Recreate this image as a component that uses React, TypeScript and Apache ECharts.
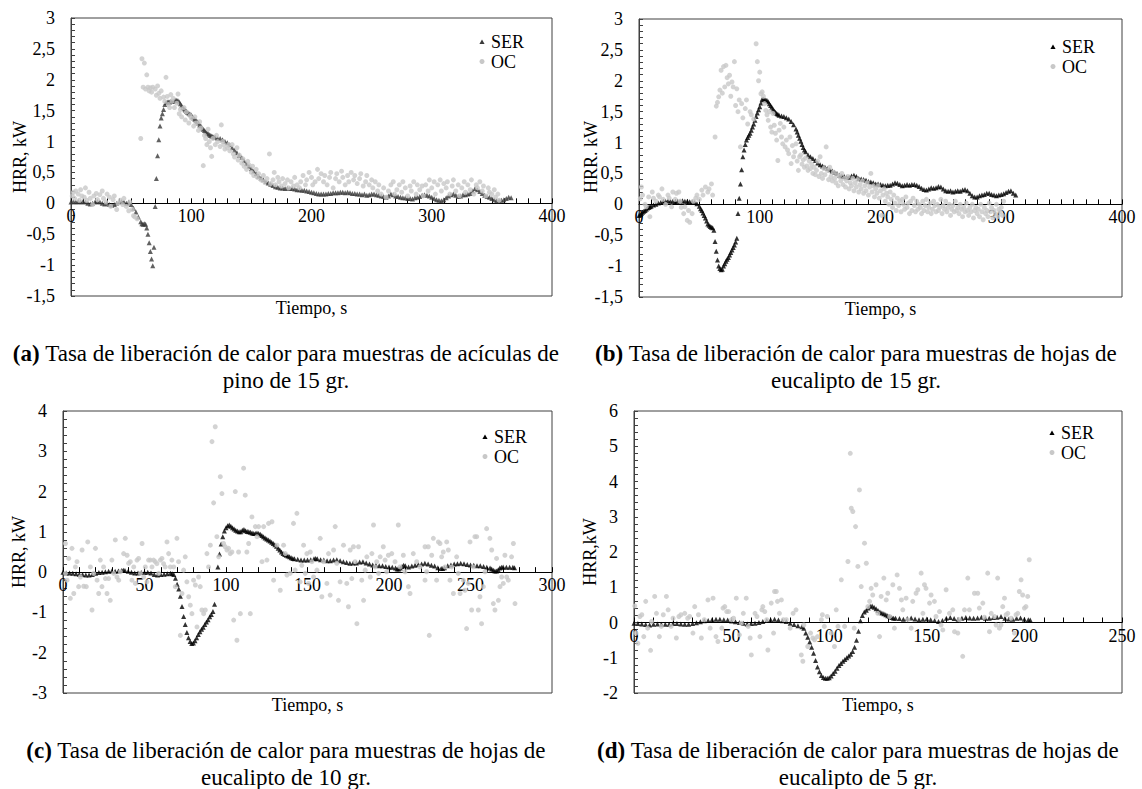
import React, { useEffect, useRef } from "react";
import * as echarts from "echarts";

const FONT = "Liberation Serif";

// ---------- Panel (a): pine needles 15 g ----------
const serA: number[][] = [
[0,0.02],[2,0.03],[4,0.02],[6,0.03],[8,0.02],[10,0.03],[12,0.02],[14,0.0],[16,-0.01],[18,0.0],[20,0.02],[22,0.03],[24,0.02],[26,0.0],[28,-0.01],[30,0.0],[32,-0.02],[34,-0.03],[36,-0.02],[38,0.0],[40,0.02],[42,0.03],[44,0.02],[46,0.0],[48,0.02],[50,-0.02],[52,-0.08],[54,-0.14],[56,-0.22],[58,-0.3],[59,-0.33],[60,-0.34],[61,-0.33],[62,-0.34],[63,-0.4],[64,-0.5],[65,-0.64],[66,-0.78],[67,-0.9],[68,-1.01],[69,-0.71],[70,-0.05],[71,0.4],[72,0.77],[73,1.03],[74,1.25],[75,1.38],[76,1.45],[77,1.52],[78,1.6],[79,1.63],[80,1.64],[81,1.64],[82,1.64],[83,1.65],[84,1.65],[85,1.65],[86,1.66],[87,1.67],[88,1.67],[89,1.66],[90,1.64],[91,1.61],[92,1.58],[93,1.55],[94,1.53],[95,1.51],[96,1.49],[97,1.47],[98,1.46],[99,1.44],[100,1.43],[101,1.4],[102,1.38],[103,1.36],[104,1.34],[105,1.32],[106,1.3],[107,1.27],[108,1.25],[109,1.22],[110,1.2],[111,1.18],[112,1.16],[113,1.14],[114,1.13],[115,1.11],[116,1.1],[117,1.09],[118,1.08],[119,1.07],[120,1.07],[122,1.05],[124,1.05],[126,1.03],[128,1.0],[130,0.98],[132,0.95],[134,0.9],[136,0.86],[138,0.82],[140,0.78],[142,0.74],[144,0.69],[146,0.64],[148,0.6],[150,0.56],[152,0.52],[154,0.48],[156,0.44],[158,0.41],[160,0.38],[162,0.35],[164,0.33],[166,0.31],[168,0.29],[170,0.27],[172,0.26],[174,0.25],[176,0.25],[178,0.24],[180,0.25],[182,0.24],[184,0.24],[186,0.23],[188,0.22],[190,0.22],[192,0.21],[194,0.21],[196,0.2],[198,0.19],[200,0.18],[202,0.17],[204,0.16],[206,0.15],[208,0.15],[210,0.15],[212,0.15],[214,0.16],[216,0.16],[218,0.17],[220,0.17],[222,0.17],[224,0.18],[226,0.18],[228,0.17],[230,0.18],[232,0.17],[234,0.16],[236,0.16],[238,0.15],[240,0.15],[242,0.14],[244,0.15],[246,0.13],[248,0.14],[250,0.15],[252,0.15],[254,0.14],[256,0.13],[258,0.12],[260,0.11],[262,0.1],[264,0.12],[266,0.15],[268,0.14],[270,0.12],[272,0.11],[274,0.1],[276,0.09],[278,0.09],[280,0.08],[282,0.08],[284,0.07],[286,0.09],[288,0.1],[290,0.11],[292,0.13],[294,0.14],[296,0.13],[298,0.12],[300,0.1],[302,0.08],[304,0.06],[306,0.05],[308,0.04],[310,0.06],[312,0.09],[314,0.12],[316,0.14],[318,0.15],[320,0.13],[322,0.11],[324,0.12],[326,0.14],[328,0.14],[330,0.15],[332,0.16],[334,0.2],[336,0.24],[338,0.22],[340,0.19],[342,0.16],[344,0.13],[346,0.11],[348,0.1],[350,0.08],[352,0.06],[354,0.04],[356,0.04],[358,0.05],[360,0.06],[362,0.08],[364,0.1],[366,0.09]
];
const ocA: number[][] = [
[1,0.12],[2,0.18],[3,0.08],[4,0.2],[6,0.15],[7,0.05],[8,0.22],[9,0.12],[11,0.1],[12,0.25],[13,0.05],[15,0.18],[16,0.08],[18,-0.02],[19,0.12],[21,0.16],[22,0.06],[24,0.14],[26,0.2],[27,0.08],[29,0.02],[30,0.15],[32,0.1],[33,-0.05],[35,0.06],[36,0.12],[38,-0.1],[39,0.0],[41,0.05],[43,-0.02],[44,0.08],[46,-0.05],[48,-0.12],[49,0.02],[51,-0.1],[52,-0.2],[53,-0.22],[55,-0.25],[58,1.05],[59,2.34],[60,1.88],[61,2.27],[62,1.85],[63,2.08],[64,1.88],[65,1.82],[66,1.87],[67,1.8],[68,1.88],[70,1.85],[71,1.75],[72,1.9],[73,1.78],[74,1.7],[75,1.82],[77,1.72],[78,1.65],[79,2.04],[80,1.73],[81,1.6],[82,1.55],[83,1.76],[84,1.65],[85,1.7],[86,1.55],[88,1.62],[89,1.77],[90,1.45],[91,1.52],[92,1.4],[94,1.55],[95,1.35],[96,1.48],[98,1.3],[99,1.42],[100,1.38],[102,1.25],[103,1.4],[104,1.3],[106,1.18],[107,1.32],[108,1.22],[110,0.61],[111,1.1],[112,1.05],[113,0.95],[114,1.2],[115,1.0],[116,0.9],[117,0.76],[118,1.05],[120,0.95],[121,1.1],[122,1.0],[124,0.92],[125,1.27],[126,1.0],[127,0.95],[128,0.88],[130,0.9],[131,0.95],[132,0.85],[134,0.95],[135,0.8],[136,0.75],[138,0.9],[139,0.7],[140,0.78],[142,0.65],[143,0.72],[144,0.6],[146,0.55],[147,0.68],[148,0.62],[150,0.5],[151,0.6],[152,0.45],[154,0.55],[155,0.42],[156,0.48],[158,0.38],[160,0.45],[161,0.35],[163,0.4],[165,0.8],[166,0.32],[168,0.38],[169,0.5],[170,0.3],[172,0.42],[173,0.35],[175,0.28],[176,0.4],[178,0.32],[180,0.38],[181,0.25],[183,0.35],[185,0.28],[186,0.42],[188,0.3],[190,0.25],[191,0.35],[193,0.45],[195,0.3],[196,0.38],[198,0.5],[200,0.42],[201,0.3],[203,0.35],[205,0.55],[206,0.4],[208,0.48],[210,0.35],[211,0.45],[213,0.3],[215,0.42],[216,0.5],[218,0.25],[220,0.4],[221,0.48],[223,0.35],[225,0.52],[226,0.42],[228,0.3],[230,0.45],[231,0.35],[233,0.5],[235,0.38],[236,0.45],[238,0.32],[240,0.4],[241,0.48],[243,0.28],[245,0.35],[246,0.45],[248,0.3],[250,0.38],[251,0.25],[253,0.35],[255,0.2],[256,0.3],[258,0.15],[260,0.25],[262,0.1],[264,0.2],[266,0.3],[268,0.35],[269,0.15],[271,0.22],[273,0.3],[275,0.18],[276,0.35],[278,0.25],[280,0.12],[282,0.28],[283,0.2],[285,0.35],[287,0.15],[288,0.3],[290,0.22],[292,0.28],[293,0.12],[295,0.3],[297,0.2],[298,0.38],[300,0.25],[302,0.35],[303,0.15],[305,0.3],[307,0.38],[308,0.2],[310,0.32],[312,0.25],[313,0.35],[315,0.15],[317,0.28],[318,0.38],[320,0.2],[322,0.3],[323,0.12],[325,0.25],[327,0.35],[328,0.18],[330,0.3],[332,0.22],[333,0.38],[335,0.15],[337,0.3],[338,0.25],[340,0.35],[342,0.2],[343,0.28],[345,0.12],[347,0.25],[348,0.18],[350,0.15],[352,0.22],[353,0.1],[355,0.15],[356,0.05]
];

// ---------- Panel (b): eucalyptus 15 g ----------
const serB: number[][] = [
[0,-0.18],[1,-0.17],[2,-0.15],[3,-0.13],[4,-0.11],[5,-0.1],[6,-0.08],[7,-0.06],[8,-0.05],[9,-0.04],[10,-0.03],[12,-0.01],[14,0.0],[16,0.02],[18,0.03],[20,0.04],[22,0.05],[24,0.06],[26,0.05],[28,0.05],[30,0.04],[32,0.05],[34,0.05],[36,0.06],[38,0.05],[40,0.05],[42,0.04],[44,0.04],[46,0.03],[48,0.01],[50,-0.03],[51,-0.07],[52,-0.1],[53,-0.14],[54,-0.18],[55,-0.22],[56,-0.27],[57,-0.32],[58,-0.34],[59,-0.36],[60,-0.37],[61,-0.38],[62,-0.42],[63,-0.6],[64,-0.76],[65,-0.9],[66,-1.0],[67,-1.04],[68,-1.06],[69,-1.05],[70,-1.0],[71,-0.96],[72,-0.92],[73,-0.89],[74,-0.86],[75,-0.82],[76,-0.78],[77,-0.74],[78,-0.7],[79,-0.66],[80,-0.61],[81,-0.55],[82,-0.15],[83,0.1],[84,0.33],[85,0.56],[86,0.77],[87,0.88],[88,0.97],[89,1.04],[90,1.08],[91,1.12],[92,1.15],[93,1.2],[94,1.25],[95,1.3],[96,1.36],[97,1.42],[98,1.48],[99,1.53],[100,1.58],[101,1.64],[102,1.7],[103,1.7],[104,1.69],[105,1.69],[106,1.68],[107,1.66],[108,1.63],[109,1.6],[110,1.57],[111,1.54],[112,1.51],[113,1.49],[114,1.47],[115,1.46],[116,1.44],[118,1.43],[120,1.42],[122,1.4],[124,1.38],[126,1.34],[128,1.29],[130,1.22],[131,1.17],[132,1.12],[133,1.07],[134,1.02],[135,0.97],[136,0.92],[137,0.88],[138,0.85],[140,0.8],[142,0.77],[144,0.74],[146,0.71],[148,0.67],[150,0.64],[152,0.62],[154,0.6],[156,0.58],[158,0.56],[160,0.54],[162,0.52],[164,0.5],[166,0.47],[168,0.46],[170,0.45],[172,0.44],[174,0.44],[176,0.46],[178,0.47],[180,0.45],[182,0.42],[184,0.41],[186,0.4],[188,0.39],[190,0.37],[192,0.36],[194,0.35],[196,0.33],[198,0.33],[200,0.32],[202,0.31],[204,0.3],[206,0.31],[208,0.31],[210,0.33],[212,0.35],[214,0.34],[216,0.32],[218,0.3],[220,0.31],[222,0.32],[224,0.31],[226,0.32],[228,0.32],[230,0.31],[232,0.29],[234,0.26],[236,0.24],[238,0.23],[240,0.25],[242,0.27],[244,0.26],[246,0.27],[248,0.29],[250,0.28],[252,0.25],[254,0.22],[256,0.21],[258,0.22],[260,0.2],[262,0.21],[264,0.22],[266,0.21],[268,0.23],[270,0.24],[272,0.22],[274,0.18],[276,0.14],[278,0.12],[280,0.12],[282,0.14],[284,0.15],[286,0.16],[288,0.18],[290,0.18],[292,0.16],[294,0.15],[296,0.14],[298,0.15],[300,0.16],[302,0.17],[304,0.19],[306,0.21],[308,0.22],[310,0.18],[312,0.15]
];
const ocB: number[][] = [
[1,0.09],[2,0.28],[3,0.15],[5,0.0],[6,-0.04],[8,0.12],[9,-0.2],[11,0.2],[12,0.1],[14,0.05],[16,0.15],[17,0.12],[19,0.25],[20,0.08],[22,0.0],[24,0.15],[25,0.1],[27,-0.04],[28,0.2],[30,0.08],[31,0.18],[33,0.2],[34,0.05],[35,-0.05],[37,-0.15],[38,-0.04],[40,-0.26],[41,-0.1],[42,-0.29],[44,-0.15],[45,0.05],[47,0.1],[48,0.15],[50,0.08],[52,0.23],[53,0.15],[55,0.28],[57,0.2],[58,0.25],[60,0.33],[61,0.15],[63,1.09],[64,1.59],[65,1.65],[66,1.74],[67,1.85],[68,2.17],[69,1.8],[70,2.23],[71,1.9],[72,2.25],[73,2.05],[74,1.95],[75,2.09],[76,1.75],[77,1.98],[78,1.9],[79,2.31],[80,1.6],[81,1.87],[82,1.5],[83,1.69],[84,0.93],[85,1.63],[86,1.4],[88,1.55],[89,1.69],[90,1.3],[92,1.5],[93,1.45],[95,1.38],[97,2.6],[98,2.31],[99,2.0],[100,2.14],[101,1.79],[102,1.82],[103,1.75],[104,1.63],[105,1.52],[106,1.45],[107,1.36],[108,1.5],[109,1.25],[110,1.17],[111,1.47],[112,1.28],[113,1.15],[114,1.04],[115,0.71],[116,1.2],[117,1.31],[118,1.09],[119,0.98],[120,1.25],[121,0.93],[122,1.04],[123,0.88],[124,0.82],[125,1.09],[126,0.66],[127,0.95],[128,0.77],[129,0.85],[130,0.98],[131,0.7],[132,0.55],[133,0.77],[134,0.8],[135,0.65],[136,0.72],[137,0.6],[138,0.75],[139,0.62],[140,0.55],[141,0.7],[142,0.58],[143,0.65],[144,0.5],[145,0.6],[146,0.48],[147,0.55],[148,0.7],[149,0.45],[150,0.77],[151,0.5],[152,0.42],[153,0.58],[154,0.48],[155,0.93],[156,0.55],[157,0.4],[158,0.6],[159,0.45],[160,0.38],[161,0.52],[162,0.42],[163,0.35],[164,0.48],[165,0.3],[166,0.45],[167,0.38],[168,0.5],[169,0.32],[170,0.42],[171,0.28],[172,0.38],[173,0.45],[174,0.25],[175,0.35],[176,0.3],[177,0.42],[178,0.22],[179,0.35],[180,0.28],[181,0.4],[182,0.2],[183,0.32],[184,0.25],[185,0.38],[186,0.18],[187,0.3],[188,0.22],[189,0.35],[190,0.15],[191,0.28],[192,0.5],[193,0.2],[194,0.3],[195,0.12],[196,0.25],[197,0.18],[198,0.3],[199,0.1],[200,0.22],[201,-0.18],[202,0.15],[203,0.25],[204,0.05],[205,0.18],[206,0.12],[207,0.0],[208,0.2],[209,0.08],[210,-0.05],[211,0.15],[212,0.02],[213,-0.1],[214,0.1],[215,-0.02],[216,0.05],[217,-0.12],[218,0.08],[219,0.0],[220,-0.08],[221,0.12],[222,-0.05],[223,0.02],[224,-0.15],[225,0.05],[226,-0.1],[227,0.1],[228,-0.02],[229,-0.12],[230,0.05],[231,-0.08],[232,0.0],[233,-0.05],[234,-0.15],[235,0.05],[236,-0.1],[237,-0.02],[238,0.08],[239,-0.12],[240,-0.05],[241,0.02],[242,-0.15],[243,-0.08],[244,0.05],[245,-0.02],[246,-0.12],[247,0.0],[248,-0.1],[249,-0.05],[250,0.08],[251,-0.15],[252,-0.02],[253,-0.08],[254,0.05],[255,-0.12],[256,-0.05],[257,0.0],[258,-0.18],[259,-0.08],[260,-0.02],[261,-0.12],[262,0.05],[263,-0.1],[264,-0.05],[265,-0.15],[266,0.0],[267,-0.08],[268,-0.2],[269,-0.05],[270,-0.12],[271,0.02],[272,-0.1],[273,-0.18],[274,-0.05],[275,-0.12],[276,0.0],[277,-0.22],[278,-0.1],[279,-0.05],[280,-0.15],[281,-0.08],[282,-0.2],[283,0.0],[284,-0.12],[285,-0.25],[286,-0.05],[287,-0.15],[288,-0.1],[289,-0.2],[290,0.02],[291,-0.12],[292,-0.05],[293,-0.22],[294,-0.1],[295,-0.15],[296,0.0],[297,-0.2],[298,-0.08],[299,-0.12],[300,-0.05],[301,-0.18],[302,0.05]
];

// ---------- Panel (c): eucalyptus 10 g ----------
const serC: number[][] = [
[0,0.0],[2,-0.02],[4,-0.02],[6,-0.03],[8,-0.04],[10,-0.05],[12,-0.06],[14,-0.07],[16,-0.07],[18,-0.06],[20,-0.03],[22,-0.01],[24,0.0],[26,0.01],[28,0.02],[30,0.03],[32,0.02],[34,0.03],[36,0.04],[37,0.05],[38,0.04],[40,0.02],[42,0.0],[44,-0.02],[46,-0.02],[48,-0.01],[50,-0.01],[52,0.0],[54,-0.02],[56,-0.06],[58,-0.07],[60,-0.06],[62,-0.05],[64,-0.04],[66,-0.03],[67,-0.04],[68,-0.06],[69,-0.15],[70,-0.3],[71,-0.42],[72,-0.6],[73,-0.85],[74,-1.1],[75,-1.3],[76,-1.5],[77,-1.63],[78,-1.72],[79,-1.77],[80,-1.76],[81,-1.7],[82,-1.63],[83,-1.55],[84,-1.48],[85,-1.42],[86,-1.37],[87,-1.3],[88,-1.24],[89,-1.18],[90,-1.11],[91,-1.05],[92,-0.98],[93,-0.8],[95,0.13],[96,0.45],[97,0.7],[98,0.88],[99,1.02],[100,1.1],[101,1.15],[102,1.17],[103,1.14],[104,1.1],[105,1.07],[106,1.04],[107,1.02],[108,1.0],[109,1.0],[110,1.04],[111,1.06],[112,1.03],[113,1.01],[114,1.0],[115,0.99],[116,0.97],[117,0.96],[118,0.96],[119,0.97],[120,0.96],[121,0.94],[122,0.91],[123,0.88],[124,0.85],[125,0.82],[126,0.8],[127,0.77],[128,0.74],[129,0.71],[130,0.68],[131,0.64],[132,0.59],[133,0.55],[134,0.5],[135,0.46],[136,0.44],[137,0.42],[138,0.4],[139,0.38],[140,0.36],[141,0.34],[142,0.33],[144,0.32],[146,0.3],[148,0.3],[150,0.3],[152,0.31],[154,0.33],[155,0.34],[156,0.33],[158,0.31],[160,0.3],[162,0.28],[164,0.28],[166,0.3],[168,0.31],[170,0.28],[172,0.26],[174,0.24],[176,0.22],[178,0.23],[180,0.23],[182,0.25],[184,0.26],[186,0.23],[188,0.2],[190,0.18],[192,0.17],[194,0.16],[196,0.16],[198,0.14],[200,0.13],[202,0.12],[204,0.1],[205,0.08],[206,0.08],[207,0.1],[208,0.14],[209,0.17],[210,0.16],[212,0.13],[214,0.15],[216,0.17],[218,0.19],[220,0.2],[222,0.22],[224,0.2],[226,0.17],[228,0.15],[230,0.11],[232,0.09],[233,0.09],[234,0.11],[236,0.16],[238,0.18],[240,0.2],[242,0.21],[244,0.22],[246,0.21],[248,0.19],[250,0.18],[252,0.17],[254,0.16],[256,0.16],[258,0.14],[260,0.12],[262,0.1],[263,0.08],[264,0.05],[265,0.03],[266,0.03],[267,0.06],[268,0.1],[269,0.12],[270,0.13],[272,0.12],[274,0.12],[276,0.12],[277,0.11]
];
const ocC: number[][] = [
[1.5,-0.03],[1.5,0.71],[2.5,-0.2],[3.5,0.34],[4.5,-0.65],[5.5,0.59],[6.6,-0.53],[7.6,0.13],[8.6,0.26],[9.6,-0.36],[10.7,-0.12],[11.7,0.55],[12.7,-0.35],[14.3,-0.36],[15.2,0.75],[16.8,0.13],[17.8,-0.94],[18.8,-0.03],[19.9,0.59],[20.9,-0.2],[21.9,-0.53],[22.9,0.3],[23.9,-0.36],[24.9,0.13],[26,-0.16],[27,-0.53],[28,-0.16],[29,-0.7],[30,0.3],[31.1,-0.03],[32.1,0.8],[33.1,-0.12],[34.2,-0.2],[35.2,0.01],[37.2,0.46],[38.2,0.84],[39.3,0.42],[40.3,0.22],[41.3,0.26],[42.3,-0.2],[43.4,0.13],[44.4,-0.28],[45.4,0.3],[46.4,0.34],[47.5,-0.03],[48.5,0.71],[49.5,-0.12],[50.5,0.13],[51.5,-0.24],[52.5,0.3],[53.6,0.3],[54.6,0.13],[55.6,0.3],[56.6,0.26],[57.6,0.21],[58.7,-0.03],[59.7,0.3],[60.7,0.34],[61.7,0.21],[62.7,0.13],[63.8,0.75],[64.8,0.46],[65.8,0.13],[66.8,0.3],[67.9,0.13],[68.9,-0.36],[69.9,0.84],[70.9,0.26],[72,-1.57],[73,-0.53],[74,0.05],[75,0.38],[76,-0.24],[77.1,-0.61],[78.1,-0.82],[79.1,-1.03],[80.1,-0.2],[81.2,-0.32],[82.2,-1.36],[83.2,-0.12],[84.2,-0.36],[85.2,-0.94],[86.3,-1.03],[87.3,-0.94],[88.3,0.46],[89.3,0.13],[90.4,0.67],[91.4,3.24],[92.4,1.72],[93.4,3.61],[94.4,0.88],[95.5,0.38],[96.5,2.37],[97.5,1.95],[98.5,0.71],[99.5,0.63],[100.6,0.55],[101.6,0.59],[102.6,0.46],[103.6,0.5],[104.7,-1.19],[105.7,2.0],[106.7,-1.69],[107.7,0.5],[108.8,-1.03],[110.8,2.58],[111.8,1.91],[112.8,0.5],[113.9,0.71],[114.9,-1.03],[115.9,1.37],[118,1.13],[119,0.88],[120,1.13],[122.1,0.26],[123.1,1.13],[125.1,0.3],[126.1,1.21],[128.2,1.25],[129.2,-0.2],[131.3,0.67],[133.3,-0.45],[135.3,0.67],[136.4,0.46],[137.4,-0.07],[139.4,-0.03],[141.4,1.21],[142.4,0.05],[143.5,1.46],[145.5,-0.24],[146.5,0.17],[147.6,0.67],[148.6,-0.03],[149.6,0.46],[150.6,-0.28],[151.7,0.5],[152.7,0.26],[153.7,-0.12],[155.8,0.05],[157.8,0.84],[158.8,-0.61],[159.8,0.26],[161.9,-0.28],[162.9,0.46],[163.9,-0.57],[166,0.55],[167,1.13],[168,0.22],[169,-0.7],[170,-0.24],[172.1,0.67],[174.1,-0.28],[175.1,-0.86],[176.2,0.55],[177.2,-0.16],[178.2,0.63],[179.2,0.26],[180.3,-1.28],[181.3,0.63],[183.3,-0.2],[184.4,-0.7],[185.4,0.05],[186.4,0.38],[188.5,-0.12],[189.5,0.46],[190.5,1.17],[191.5,0.13],[192.5,0.26],[193.6,-0.03],[194.6,0.38],[196.5,0.63],[197.6,0.3],[198.6,0.01],[199.6,0.42],[201.7,0.46],[203.7,0.26],[205.7,1.17],[206.8,0.13],[208.8,0.42],[209.8,0.01],[211.9,-0.36],[212.9,-0.53],[214.9,0.46],[217,0.26],[219,0.13],[222.1,0.63],[222.1,-0.2],[223.1,0.01],[224.1,0.63],[224.7,-1.57],[226.2,0.42],[227.2,0.84],[229.2,-0.2],[230.3,0.75],[231.3,0.71],[232.3,0.38],[233.3,0.5],[234.4,0.13],[235.4,0.75],[236.4,0.55],[237.4,-0.2],[238.4,0.13],[239.5,-0.53],[241.5,0.38],[242.5,-0.03],[243.6,-0.53],[245.6,-0.2],[246.6,-0.45],[247.6,-1.4],[248.6,-0.28],[249.7,0.75],[250.7,-0.94],[251.7,0.13],[252.7,0.88],[253.8,0.88],[254.8,-0.94],[255.8,-0.61],[256.8,-1.28],[257.9,-0.36],[258.9,0.01],[259.9,1.08],[261.9,0.84],[263,0.55],[264,-0.78],[265,-0.94],[266,0.34],[267.1,-0.7],[268.1,-0.36],[269.1,-0.12],[270.1,-0.28],[271.1,0.42],[272.2,-0.12],[273.2,-0.2],[275.2,0.38],[276.3,0.71],[277.3,-0.78]
];

// ---------- Panel (d): eucalyptus 5 g ----------
const serD: number[][] = [
[0,-0.02],[2,-0.03],[4,-0.04],[6,-0.06],[8,-0.07],[10,-0.05],[12,-0.04],[14,-0.05],[16,-0.05],[18,-0.05],[20,-0.03],[22,-0.03],[24,-0.04],[26,-0.05],[28,-0.05],[30,-0.03],[32,-0.01],[34,0.02],[36,0.05],[38,0.06],[40,0.08],[42,0.09],[44,0.09],[46,0.08],[48,0.07],[50,0.04],[52,0.02],[54,0.0],[56,-0.02],[58,-0.04],[60,-0.03],[62,-0.02],[64,0.0],[66,0.03],[68,0.06],[70,0.08],[72,0.09],[74,0.07],[76,0.05],[78,0.03],[80,-0.02],[82,-0.06],[84,-0.09],[86,-0.12],[87,-0.16],[88,-0.3],[89,-0.42],[90,-0.55],[91,-0.7],[92,-0.87],[93,-1.08],[94,-1.26],[95,-1.4],[96,-1.5],[97,-1.56],[98,-1.58],[99,-1.58],[100,-1.57],[101,-1.52],[102,-1.45],[103,-1.38],[104,-1.3],[105,-1.22],[106,-1.16],[107,-1.1],[108,-1.05],[109,-1.0],[110,-0.95],[111,-0.9],[112,-0.82],[113,-0.7],[114,-0.5],[115,-0.25],[116,0.05],[117,0.2],[118,0.3],[119,0.35],[120,0.41],[121,0.46],[122,0.47],[123,0.43],[124,0.39],[125,0.34],[126,0.3],[127,0.27],[128,0.25],[129,0.22],[130,0.19],[131,0.17],[132,0.14],[133,0.12],[134,0.12],[136,0.11],[138,0.09],[140,0.11],[142,0.13],[144,0.1],[146,0.08],[148,0.09],[150,0.1],[152,0.08],[154,0.06],[156,0.03],[158,0.06],[160,0.12],[162,0.14],[164,0.11],[166,0.09],[168,0.12],[170,0.14],[172,0.13],[174,0.12],[176,0.13],[178,0.15],[180,0.12],[182,0.12],[184,0.14],[186,0.15],[188,0.17],[190,0.12],[192,0.1],[194,0.09],[196,0.12],[198,0.13],[200,0.09],[202,0.08],[203,0.07]
];
const ocD: number[][] = [
[0.4,0.47],[1,-0.3],[2,-0.59],[3,0.17],[4,0.22],[5,-0.4],[6,0.6],[7,-0.16],[8.5,-0.79],[9,0.03],[10.6,0.74],[11.5,0.26],[13,-0.4],[14,-0.11],[15,0.22],[16.6,0.74],[17.5,0.36],[19,-0.11],[20,0.12],[21.7,-0.44],[23,0.17],[24,0.22],[26,0.26],[27.5,0.12],[28.5,0.17],[30.2,-0.3],[31.1,0.45],[33,0.22],[34.5,-0.44],[36,0.08],[37.9,0.64],[39,-0.16],[40.5,0.69],[42,-0.4],[43,-0.54],[45,-0.16],[45.6,0.41],[46.5,0.45],[47.5,0.31],[48.5,0.31],[50,0.08],[51,0.12],[52.4,0.69],[54,-0.35],[55,-0.02],[56,0.26],[57.5,0.69],[58.5,-0.11],[59.5,-0.44],[60.1,-0.92],[62,0.26],[63,0.17],[64.5,-0.4],[65.5,0.36],[66,0.45],[67,0.31],[68,0.08],[68.6,-0.78],[70.3,0.55],[71.5,-0.3],[72,0.88],[72.9,0.88],[73.5,0.6],[74.5,0.26],[75.5,0.64],[76.5,0.08],[78,0.08],[80,-0.16],[81.5,0.26],[83,0.36],[85.7,-0.92],[86.5,-1.1],[87,-0.07],[89,-0.68],[90.5,-0.3],[91.6,-0.44],[92.5,-0.49],[94,-0.4],[96,0.08],[96.5,0.22],[97.5,-0.11],[99,0.17],[101,-0.3],[102.7,-0.68],[103.6,0.36],[104.5,-0.11],[106.2,1.21],[107.9,-0.11],[109.6,1.73],[110.8,4.8],[111.3,3.24],[112.1,3.15],[112.8,-0.16],[113.5,2.72],[114.7,1.59],[115.5,3.76],[116.4,1.02],[118.1,2.25],[119,1.68],[119.8,0.45],[120.7,0.6],[121.5,0.97],[122.3,0.78],[124,1.07],[124.9,0.26],[125.8,-0.4],[126.6,0.74],[128,1.26],[129.2,0.64],[130,0.83],[131,0.17],[132.6,1.07],[133.4,-0.16],[134.8,1.35],[136,0.97],[137,0.64],[137.7,0.36],[139.4,0.69],[140.3,0.08],[142,-0.16],[142.8,0.6],[144.5,0.83],[145.4,0.93],[147.1,1.4],[148,0.26],[148.8,1.07],[149.6,0.97],[151.4,0.55],[152.2,0.78],[153.9,0.6],[154.7,0.17],[156.5,0.31],[157.3,-0.07],[158.2,-0.21],[159.9,0.93],[161.6,0.26],[163.3,0.36],[164.2,-0.26],[165.9,-0.3],[166.7,0.08],[168.4,-0.96],[169.3,0.36],[171,1.26],[171.8,0.36],[174.4,0.83],[176.1,0.83],[176.9,0.41],[178.7,0.55],[179.5,0.15],[181.2,1.4],[182.1,-0.26],[183,0.26],[184.6,0.17],[185.5,-0.07],[186.3,1.26],[187.2,-0.16],[188,-0.07],[188.9,0.45],[189.8,0.69],[190.6,0.22],[191.5,0.26],[193.2,0.12],[194.9,-0.3],[195.7,0.22],[196.6,0.26],[197.4,0.88],[198.3,1.21],[199.1,0.78],[200,0.41],[200.8,0.45],[201.7,0.74],[202.5,1.78]
];

// Axis ranges [min, max, interval, minor splits]
const xRanges = [[0, 400, 100, 10], [0, 400, 100, 10], [0, 300, 50, 5], [0, 250, 50, 5]];
const yRanges = [[-1.5, 3, 0.5, 5], [-1.5, 3, 0.5, 5], [-3, 4, 1, 5], [-2, 6, 1, 5]];
const yNames = ["HRR, kW", "HRR. kW", "HRR, kW", "HRR,kW"];
const xName = "Tiempo, s";
const legendNames = ["SER", "OC"];
const captionTags = ["(a)", "(b)", "(c)", "(d)"];
const captionLine1 = [
  " Tasa de liberación de calor para muestras de acículas de",
  " Tasa de liberación de calor para muestras de hojas de",
  " Tasa de liberación de calor para muestras de hojas de",
  " Tasa de liberación de calor para muestras de hojas de",
];
const captionLine2 = ["pino de 15 gr.", "eucalipto de 15 gr.", "eucalipto de 10 gr.", "eucalipto de 5 gr."];

// Layout (px)
const grids = [
  { left: 71, top: 18, width: 481, height: 278 },
  { left: 639, top: 19, width: 483, height: 278 },
  { left: 63, top: 411, width: 489, height: 282 },
  { left: 634, top: 411, width: 488, height: 282 },
];
const yNamePos = [[20, 157], [591, 157], [19, 552], [590, 552]];
const legendPos = [[482, 42], [1053, 47], [485, 437], [1052, 433]];
const captionCenterX = [286, 856, 286, 858];
const captionY = [[353, 380], [353, 380], [750, 777], [750, 777]];
const serColors = ["#3a3a3a", "#000000", "#000000", "#000000"];
const OC_COLOR = "#c8c8c8";

const serData = [serA, serB, serC, serD];
const ocData = [ocA, ocB, ocC, ocD];

function fmt(v: number) {
  return String(v).replace(".", ",");
}

export default function App() {
  const ref = useRef<HTMLDivElement>(null);
  useEffect(() => {
    if (!ref.current) return;
    const chart = echarts.init(ref.current, undefined, { renderer: "svg" });
    const axisText = { fontFamily: FONT, fontSize: 18, color: "#000" };

    const xAxis = xRanges.map((r, i) => {
      const yr = yRanges[i];
      // distance from the grid bottom up to the y = 0 line
      const zeroUp = (grids[i].height * (0 - yr[0])) / (yr[1] - yr[0]);
      return {
        type: "value",
        gridIndex: i,
        min: r[0],
        max: r[1],
        interval: r[2],
        position: "bottom",
        offset: -zeroUp,
        axisLine: { show: true, onZero: false, lineStyle: { color: "#000", width: 1 } },
        axisTick: { show: true, inside: true, length: 5, lineStyle: { color: "#000" } },
        minorTick: { show: true, splitNumber: r[3], length: 5, lineStyle: { color: "#000" } },
        axisLabel: { ...axisText, margin: 4, showMinLabel: true, showMaxLabel: true },
        splitLine: { show: false },
      };
    });
    const yAxis = yRanges.map((r, i) => ({
      type: "value",
      gridIndex: i,
      min: r[0],
      max: r[1],
      interval: r[2],
      position: "left",
      axisLine: { show: true, onZero: false, lineStyle: { color: "#404040", width: 1 } },
      axisTick: { show: true, inside: true, length: 4, lineStyle: { color: "#404040" } },
      minorTick: { show: true, splitNumber: r[3], length: 4, lineStyle: { color: "#404040" } },
      axisLabel: { ...axisText, margin: 16, formatter: (v: number) => fmt(v) },
      splitLine: { show: false },
    }));

    const series: any[] = [];
    for (let i = 0; i < 4; i++) {
      series.push({
        type: "scatter",
        name: legendNames[0],
        xAxisIndex: i,
        yAxisIndex: i,
        data: serData[i],
        symbol: "triangle",
        symbolSize: 5,
        itemStyle: { color: serColors[i] },
        silent: true,
        z: 2,
      });
      series.push({
        type: "scatter",
        name: legendNames[1],
        xAxisIndex: i,
        yAxisIndex: i,
        data: ocData[i],
        symbol: "circle",
        symbolSize: 5,
        itemStyle: { color: OC_COLOR },
        silent: true,
        z: 3,
      });
    }

    const graphic: any[] = [];
    for (let i = 0; i < 4; i++) {
      const g = grids[i];
      graphic.push({
        type: "text",
        x: yNamePos[i][0],
        y: yNamePos[i][1],
        rotation: Math.PI / 2,
        style: { text: yNames[i], fontFamily: FONT, fontSize: 18, fill: "#000", align: "center", verticalAlign: "middle" },
      });
      graphic.push({
        type: "text",
        x: g.left + g.width / 2,
        y: g.top + g.height + 12,
        style: { text: xName, fontFamily: FONT, fontSize: 18, fill: "#000", align: "center", verticalAlign: "middle" },
      });
      const [lx, ly] = legendPos[i];
      graphic.push({
        type: "polygon",
        shape: { points: [[lx, ly - 2.6], [lx + 2.6, ly + 2], [lx - 2.6, ly + 2]] },
        style: { fill: serColors[i] },
      });
      graphic.push({
        type: "text",
        x: lx + 9,
        y: ly,
        style: { text: legendNames[0], fontFamily: FONT, fontSize: 18, fill: "#000", align: "left", verticalAlign: "middle" },
      });
      graphic.push({
        type: "circle",
        shape: { cx: lx, cy: ly + 19.5, r: 2.5 },
        style: { fill: OC_COLOR },
      });
      graphic.push({
        type: "text",
        x: lx + 9,
        y: ly + 19.5,
        style: { text: legendNames[1], fontFamily: FONT, fontSize: 18, fill: "#000", align: "left", verticalAlign: "middle" },
      });
      graphic.push({
        type: "text",
        x: captionCenterX[i],
        y: captionY[i][0],
        style: {
          text: "{b|" + captionTags[i] + "}" + captionLine1[i],
          fontFamily: FONT,
          fontSize: 23,
          fill: "#000",
          align: "center",
          verticalAlign: "middle",
          rich: { b: { fontFamily: FONT, fontSize: 23, fontWeight: "bold", fill: "#000" } },
        },
      });
      graphic.push({
        type: "text",
        x: captionCenterX[i],
        y: captionY[i][1],
        style: { text: captionLine2[i], fontFamily: FONT, fontSize: 23, fill: "#000", align: "center", verticalAlign: "middle" },
      });
    }

    chart.setOption({
      animation: false,
      backgroundColor: "#ffffff",
      grid: grids.map((g) => ({ ...g, show: true, borderColor: "#404040", borderWidth: 1, backgroundColor: "transparent", containLabel: false })),
      xAxis,
      yAxis,
      series,
      graphic,
    });
    return () => chart.dispose();
  }, []);
  return <div ref={ref} style={{ position: "absolute", left: 0, top: 0, width: 1142, height: 789 }} />;
}
